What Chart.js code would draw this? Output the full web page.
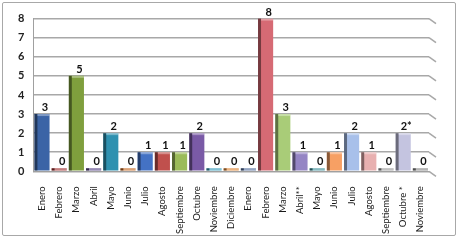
<!DOCTYPE html>
<html>
<head>
<meta charset="utf-8">
<script src="https://cdn.jsdelivr.net/npm/chart.js@4"></script>
<style>
  html, body { margin: 0; padding: 0; background: #fff; }
  #wrap {
    position: absolute; left: 2px; top: 2px;
    width: 454px; height: 234px;
    border: 1px solid #a8a8a8; border-radius: 2px;
    box-sizing: border-box; overflow: hidden;
  }
  canvas { display: block; }
</style>
</head>
<body>
<div id="wrap"><canvas id="myChart" width="452" height="232"></canvas></div>
<script>
// categories (two years, month by month)
const months = ["Enero", "Febrero", "Marzo", "Abril", "Mayo", "Junio", "Julio", "Agosto",
  "Septiembre", "Octubre", "Noviembre", "Diciembre", "Enero", "Febrero", "Marzo", "Abril**",
  "Mayo", "Junio", "Julio", "Agosto", "Septiembre", "Octubre *", "Noviembre"];
const counts = [3, 0, 5, 0, 2, 0, 1, 1, 1, 2, 0, 0, 0, 8, 3, 1, 0, 1, 2, 1, 0, 2, 0];
const valueLabels = ["3", "0", "5", "0", "2", "0", "1", "1", "1", "2", "0", "0", "0", "8", "3",
  "1", "0", "1", "2", "1", "0", "2*", "0"];
const yTicks = [0, 1, 2, 3, 4, 5, 6, 7, 8];
const barColors = ["#3b64a6", "#a33a3a", "#7f9f3d", "#5d4a8a", "#2f91b0", "#c8702c",
  "#4472c4", "#c0504d", "#9bbb59", "#7a5aa6", "#3f9fbc", "#e08a3c", "#5a74a0",
  "#d66a74", "#a9cc78", "#9585c4", "#46969f", "#f7a064", "#a8c0ea", "#e8b0b0",
  "#a0a0a0", "#c4c4e0", "#8c8c8c"];

// little slanted tails at the right end of each gridline (3D back wall)
const wallTails = {
  id: "wallTails",
  beforeDatasetsDraw(chart) {
    const ctx = chart.ctx;
    const y = chart.scales.y;
    const right = chart.chartArea.right;
    ctx.save();
    ctx.strokeStyle = "#a8a8a8";
    ctx.lineWidth = 1.5;
    y.ticks.forEach((t) => {
      const py = y.getPixelForValue(t.value);
      ctx.beginPath();
      ctx.moveTo(right, py);
      ctx.lineTo(right + 7, py + 5);
      ctx.stroke();
    });
    ctx.restore();
  }
};

// fake 3D look: dark left face + light top on each bar
const bar3d = {
  id: "bar3d",
  afterDatasetsDraw(chart) {
    const ctx = chart.ctx;
    chart.getDatasetMeta(0).data.forEach((bar) => {
      const left = bar.x - bar.width / 2;
      const top = Math.min(bar.y, bar.base);
      const h = Math.abs(bar.base - bar.y);
      ctx.save();
      ctx.fillStyle = "rgba(0,0,0,0.45)";
      ctx.fillRect(left, top, 3, h);
      ctx.fillStyle = "rgba(255,255,255,0.35)";
      ctx.fillRect(left + 3, top, bar.width - 3, 2);
      ctx.restore();
    });
  }
};

// numbers on top of the bars
const topLabels = {
  id: "topLabels",
  afterDatasetsDraw(chart) {
    const ctx = chart.ctx;
    ctx.save();
    ctx.font = "bold 11px Lato";
    ctx.fillStyle = "#111";
    ctx.textAlign = "center";
    ctx.textBaseline = "bottom";
    chart.getDatasetMeta(0).data.forEach((bar, i) => {
      ctx.fillText(valueLabels[i], bar.x + 3, Math.min(bar.y, bar.base) - 1);
    });
    ctx.restore();
  }
};

const ctx = document.getElementById("myChart").getContext("2d");
new Chart(ctx, {
  type: "bar",
  data: {
    labels: months,
    datasets: [{
      data: counts,
      backgroundColor: barColors,
      borderWidth: 0,
      minBarLength: 3,
      barPercentage: 0.88,
      categoryPercentage: 1
    }]
  },
  options: {
    responsive: false,
    animation: false,
    layout: { padding: { left: 6, right: 26, top: 13, bottom: -6 } },
    plugins: { legend: { display: false }, tooltip: { enabled: false } },
    scales: {
      x: {
        grid: { display: false },
        border: { color: "#a0a0a0" },
        ticks: {
          font: { family: "Lato", size: 9.5 },
          color: "#1a1a1a",
          minRotation: 90,
          maxRotation: 90,
          autoSkip: false,
          padding: 7
        }
      },
      y: {
        min: 0,
        max: 8,
        afterBuildTicks: (scale) => { scale.ticks = yTicks.map((v) => ({ value: v })); },
        grid: { color: "#a8a8a8", lineWidth: 1.5, drawTicks: false },
        border: { color: "#a0a0a0" },
        ticks: {
          font: { family: "Lato", size: 11, weight: "bold" },
          color: "#222",
          padding: 9
        }
      }
    }
  },
  plugins: [wallTails, bar3d, topLabels]
});
</script>
</body>
</html>
